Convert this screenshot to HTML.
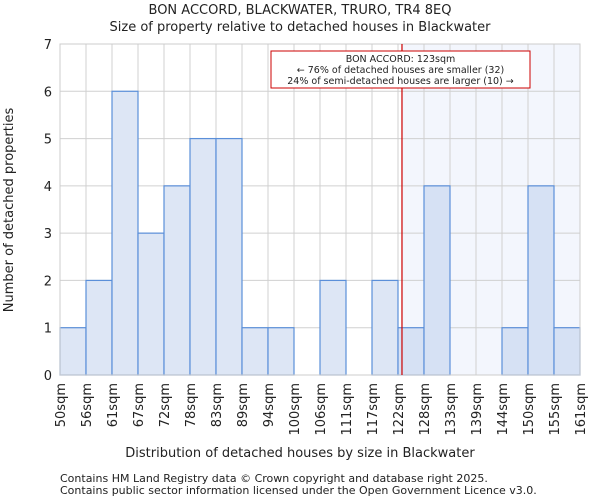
<!DOCTYPE html>
<html><head><meta charset="utf-8"><style>
body{margin:0;background:#fff;font-family:"DejaVu Sans","Liberation Sans",sans-serif;}
svg text{font-family:"DejaVu Sans","Liberation Sans",sans-serif;fill:#222;}
</style></head><body>
<svg id="c" width="600" height="500">
<text x="300" y="14" text-anchor="middle" font-size="13">BON ACCORD, BLACKWATER, TRURO, TR4 8EQ</text>
<text x="300" y="31" text-anchor="middle" font-size="13">Size of property relative to detached houses in Blackwater</text>
<g id="plot"></g>
<text x="300" y="457" text-anchor="middle" font-size="13">Distribution of detached houses by size in Blackwater</text>
<text transform="translate(13,210) rotate(-90)" text-anchor="middle" font-size="13">Number of detached properties</text>
<text x="60" y="482" font-size="11">Contains HM Land Registry data © Crown copyright and database right 2025.</text>
<text x="60" y="494" font-size="11">Contains public sector information licensed under the Open Government Licence v3.0.</text>
</svg>
<script>
const categories=["50sqm","56sqm","61sqm","67sqm","72sqm","78sqm","83sqm","89sqm","94sqm","100sqm","106sqm","111sqm","117sqm","122sqm","128sqm","133sqm","139sqm","144sqm","150sqm","155sqm","161sqm"];
const counts=[1,2,6,3,4,5,5,1,1,0,2,0,2,1,4,0,0,1,4,1];
const yTicks=[0,1,2,3,4,5,6,7];
const markerValue=123.0;
const binStart=50, binWidth=5.55;
const L=60,R=580,T=44,B=375,yMax=7;
const NS="http://www.w3.org/2000/svg";
const g=document.getElementById('plot');
const bw=(R-L)/counts.length;
const xs=i=>L+i*bw;
const ys=v=>B-(v/yMax)*(B-T);
const xv=v=>L+((v-binStart)/binWidth)*bw;
function mk(t,a){const e=document.createElementNS(NS,t);for(const k in a)e.setAttribute(k,a[k]);g.appendChild(e);return e;}
const mx=xv(markerValue);
let e=mk('rect',{x:mx,y:T,width:R-mx,height:B-T,fill:'#f3f6fd'});


yTicks.forEach(t=>{const l=mk('line',{x1:L,x2:R,y1:ys(t),y2:ys(t),stroke:'#d0d0d0'});


const tx=mk('text',{x:L-8,y:ys(t)+5,'text-anchor':'end','font-size':13});tx.textContent=t;

});
categories.forEach((c,i)=>{const l=mk('line',{x1:xs(i),x2:xs(i),y1:T,y2:B,stroke:'#d0d0d0'});


const tx=mk('text',{transform:`translate(${xs(i)+5},${B+8}) rotate(-90)`,'text-anchor':'end','font-size':13});tx.textContent=c;

});
counts.forEach((v,i)=>{if(!v)return;const r=mk('rect',{x:xs(i),y:ys(v),width:bw,height:B-ys(v),fill:xs(i)>=mx-5?'#d6e1f4':'#dde6f5',stroke:'#5b8fd9','stroke-width':1.2});

});
e=mk('rect',{x:L,y:T,width:R-L,height:B-T,fill:'none',stroke:'#cccccc'});


e=mk('line',{x1:mx,x2:mx,y1:T,y2:B,stroke:'#cc0000','stroke-width':1.2});


e=mk('rect',{x:271,y:51,width:259,height:37,fill:'#fff',stroke:'#cc0000'});


["BON ACCORD: 123sqm","← 76% of detached houses are smaller (32)","24% of semi-detached houses are larger (10) →"].forEach((s,i)=>{const t=mk('text',{x:400.5,y:62+i*11,'text-anchor':'middle','font-size':9.5});t.textContent=s;

});
</script>
</body></html>
